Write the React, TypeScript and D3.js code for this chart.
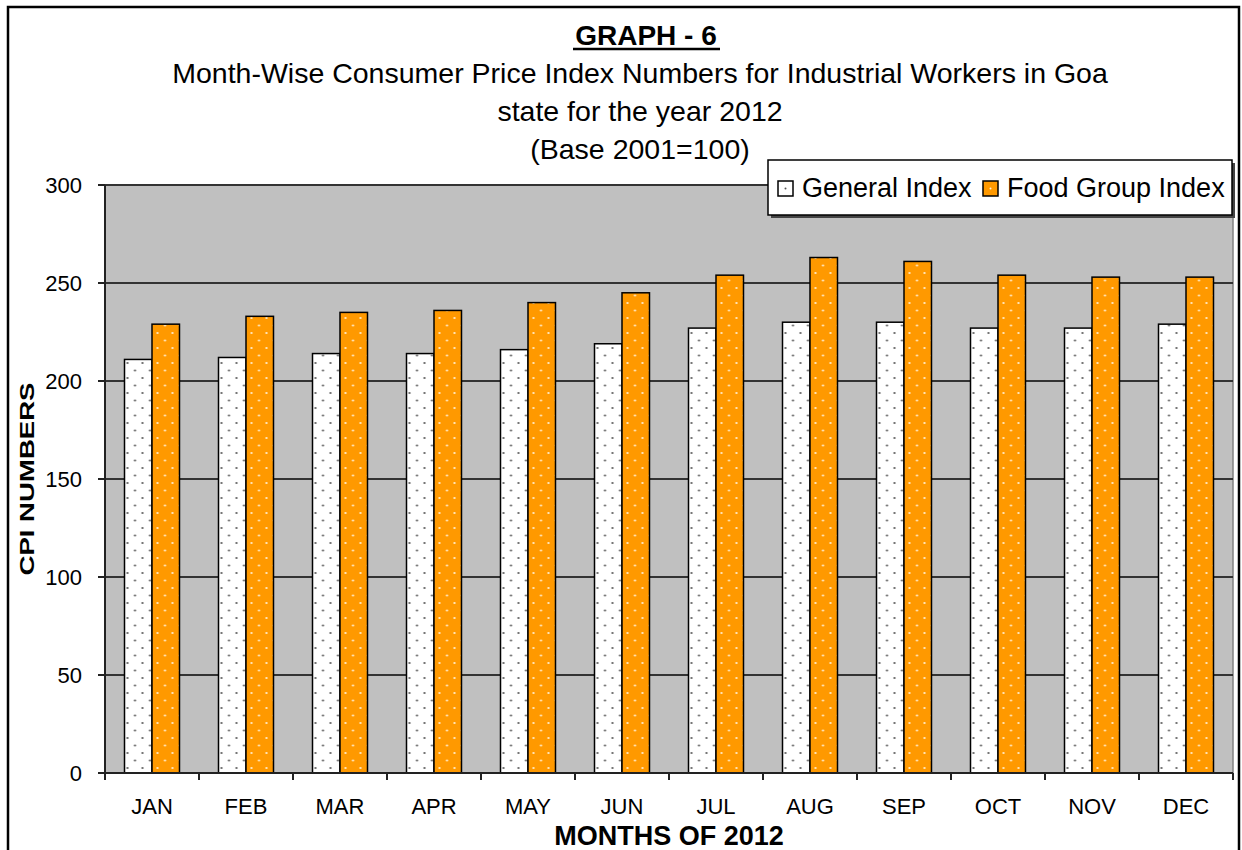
import React from 'react';
import * as d3 from 'd3';

const months = ['JAN', 'FEB', 'MAR', 'APR', 'MAY', 'JUN', 'JUL', 'AUG', 'SEP', 'OCT', 'NOV', 'DEC'];
const seriesNames = ['General Index', 'Food Group Index'];
const generalIndex = [211, 212, 214, 214, 216, 219, 227, 230, 230, 227, 227, 229];
const foodIndex = [229, 233, 235, 236, 240, 245, 254, 263, 261, 254, 253, 253];
const yTicks = [0, 50, 100, 150, 200, 250, 300];
const titleLines = [
    'Month-Wise Consumer Price Index Numbers for Industrial Workers in Goa',
    'state for the year 2012',
    '(Base 2001=100)',
];

const FONT = '"Liberation Sans", Arial, sans-serif';
const W = 1242;
const H = 850;
const plot = { left: 105, right: 1233, top: 185, bottom: 773 };

export default function App() {
    const x = d3.scaleBand<string>()
        .domain(months)
        .range([plot.left, plot.right])
        .paddingInner(0.415)
        .paddingOuter(0.2075);
    const xSub = d3.scaleBand<string>()
        .domain(seriesNames)
        .range([0, x.bandwidth()]);
    const y = d3.scaleLinear().domain([0, 300]).range([plot.bottom, plot.top]);

    const step = x.step();
    const boundaries = d3.range(months.length + 1).map(i => plot.left + i * step);

    const series = [
        { name: seriesNames[0], values: generalIndex, fill: 'url(#dotsGeneral)' },
        { name: seriesNames[1], values: foodIndex, fill: 'url(#dotsFood)' },
    ];

    return (
        <svg width={W} height={H} style={{ position: 'absolute', left: 0, top: 0, background: '#fff' }}
            fontFamily={FONT}>
            <defs>
                <pattern id="dotsGeneral" width="15" height="15" patternUnits="userSpaceOnUse">
                    <rect width="15" height="15" fill="#ffffff" />
                    <circle cx="3" cy="3" r="1.1" fill="#555" />
                    <circle cx="10.5" cy="10.5" r="1.1" fill="#555" />
                </pattern>
                <pattern id="dotsFood" width="15" height="15" patternUnits="userSpaceOnUse">
                    <rect width="15" height="15" fill="#FF9900" />
                    <circle cx="3" cy="3" r="1.1" fill="#FFF3DD" />
                    <circle cx="10.5" cy="10.5" r="1.1" fill="#FFF3DD" />
                </pattern>
            </defs>

            {/* outer frame */}
            <rect x={8} y={7} width={1231} height={H + 20} fill="none" stroke="#000" strokeWidth={2.5} />

            {/* titles */}
            <text x={646} y={45} textAnchor="middle" fontSize={28} fontWeight="bold">GRAPH - 6</text>
            <line x1={573} x2={720} y1={49} y2={49} stroke="#000" strokeWidth={2.5} />
            {titleLines.map((t, i) => (
                <text key={t} x={640} y={83 + i * 38} textAnchor="middle" fontSize={28.5}>{t}</text>
            ))}

            {/* plot area */}
            <rect x={plot.left} y={plot.top} width={plot.right - plot.left} height={plot.bottom - plot.top}
                fill="#C0C0C0" stroke="none" />
            <line x1={plot.right} x2={plot.right} y1={plot.top} y2={plot.bottom} stroke="#808080" strokeWidth={1.5} />
            {yTicks.filter(t => t > 0).map(t => (
                <line key={t} x1={plot.left} x2={plot.right} y1={y(t)} y2={y(t)} stroke="#333" strokeWidth={2} />
            ))}

            {/* bars */}
            {months.map((m, i) => (
                <g key={m} transform={`translate(${x(m)},0)`}>
                    {series.map(s => (
                        <rect key={s.name}
                            x={xSub(s.name)}
                            y={y(s.values[i])}
                            width={xSub.bandwidth()}
                            height={y(0) - y(s.values[i])}
                            fill={s.fill}
                            stroke="#000"
                            strokeWidth={1.5} />
                    ))}
                </g>
            ))}

            {/* y axis */}
            <line x1={plot.left} x2={plot.left} y1={plot.top} y2={plot.bottom} stroke="#222" strokeWidth={2} />
            {yTicks.map(t => (
                <g key={t}>
                    <line x1={plot.left - 7} x2={plot.left} y1={y(t)} y2={y(t)} stroke="#222" strokeWidth={2} />
                    <text x={82} y={y(t)} dy="0.36em" textAnchor="end" fontSize={22}>{t}</text>
                </g>
            ))}

            {/* x axis */}
            <line x1={plot.left} x2={plot.right} y1={plot.bottom} y2={plot.bottom} stroke="#222" strokeWidth={2} />
            {boundaries.map((b, i) => (
                <line key={i} x1={b} x2={b} y1={plot.bottom} y2={plot.bottom + 7} stroke="#222" strokeWidth={2} />
            ))}
            {months.map(m => (
                <text key={m} x={(x(m) ?? 0) + x.bandwidth() / 2} y={814} textAnchor="middle" fontSize={22}>{m}</text>
            ))}

            {/* axis titles */}
            <text x={(plot.left + plot.right) / 2} y={845} textAnchor="middle" fontSize={27} fontWeight="bold">
                MONTHS OF 2012
            </text>
            <text transform={`translate(34,${(plot.top + plot.bottom) / 2}) rotate(-90)`} textAnchor="middle"
                fontSize={20} fontWeight="bold" textLength={193} lengthAdjust="spacingAndGlyphs">
                CPI NUMBERS
            </text>

            {/* legend */}
            <rect x={771} y={163} width={464} height={55} fill="#444" />
            <rect x={768} y={160} width={464} height={55} fill="#fff" stroke="#000" strokeWidth={1.5} />
            {series.map((s, i) => {
                const lx = i === 0 ? 778 : 983;
                return (
                    <g key={s.name}>
                        <rect x={lx} y={181} width={15} height={15} fill={i === 0 ? '#fff' : '#FF9900'}
                            stroke="#000" strokeWidth={1.5} />
                        <circle cx={lx + 7.5} cy={188.5} r={1} fill={i === 0 ? '#555' : '#FFF3DD'} />
                        <text x={lx + 24} y={197} fontSize={27}>{s.name}</text>
                    </g>
                );
            })}
        </svg>
    );
}
